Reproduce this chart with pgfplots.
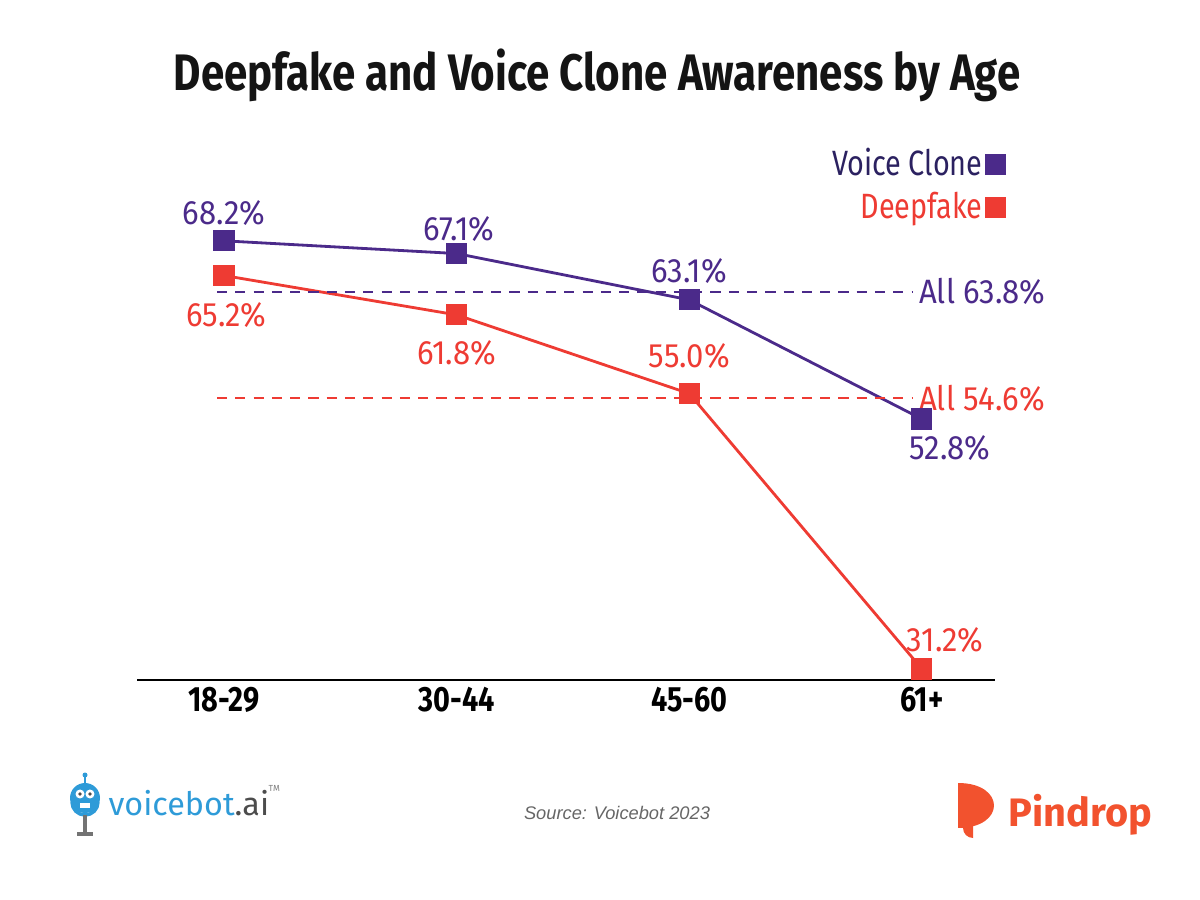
\documentclass[border=0pt]{standalone}
\usepackage{pgfplots}
\pgfplotsset{compat=1.18}
\usepackage{fontspec}
\setmainfont{Fira Sans}
\newfontfamily\condfont[FakeStretch=0.82]{Fira Sans}
\newfontfamily\labfont[FakeStretch=0.92]{Fira Sans}
\newfontfamily\srcfont{Liberation Sans}
\definecolor{vc}{HTML}{4B2A8A}
\definecolor{df}{HTML}{EE3B33}
\definecolor{vctext}{HTML}{2B2160}
\definecolor{vbblue}{HTML}{2E9BD8}
\definecolor{pinred}{HTML}{F2522E}
\begin{document}
\begin{tikzpicture}[x=1cm,y=1cm]
\useasboundingbox (0,0) rectangle (12,9);
\node[font=\condfont\bfseries\fontsize{14.6}{17}\selectfont, text=black!92] at (5.97,8.25) {Deepfake and Voice Clone Awareness by Age};
\begin{axis}[
  scale only axis, width=8.58cm, height=4.6cm,
  at={(1.37cm,2.2cm)}, anchor=south west,
  xmin=-0.374, xmax=3.314, ymin=30.25, ymax=70,
  clip=false,
  separate axis lines,
  axis x line*=bottom, axis y line=none,
  x axis line style={black, line width=0.6pt, -},
  xtick={0,1,2,3}, xticklabels={18-29,30-44,45-60,61+},
  major tick length=0pt,
  xticklabel style={font=\condfont\bfseries\fontsize{10}{12}\selectfont, text=black, yshift=1.5pt},
  legend plot pos=right, legend cell align=right,
  legend style={draw=none, fill=none, at={(1.0117,1.165)}, anchor=north east,
    row sep=0.4mm, font=\condfont\fontsize{10}{12}\selectfont,
    inner sep=0pt, nodes={inner sep=1pt}},
  legend image code/.code={\draw[#1] plot coordinates {(0.12cm,0cm)};},
]
\addplot[vc, line width=0.8pt, mark=square*, mark size=2.6pt, mark options={fill=vc, draw=vc}]
  coordinates {(0,68.2) (1,67.1) (2,63.1) (3,52.8)};
\addplot[df, line width=0.8pt, mark=square*, mark size=2.6pt, mark options={fill=df, draw=df}]
  coordinates {(0,65.2) (1,61.8) (2,55.0) (3,31.2)};
\legend{\textcolor{vctext}{Voice Clone},\textcolor{df}{Deepfake}}
\addplot[vc, line width=0.6pt, dash pattern=on 2.9pt off 2.3pt, forget plot]
  coordinates {(-0.03,63.8) (2.957,63.8)};
\addplot[df, line width=0.6pt, dash pattern=on 2.9pt off 2.3pt, forget plot]
  coordinates {(-0.03,54.6) (2.957,54.6)};
\begin{scope}[every node/.style={font=\labfont\fontsize{9.6}{12}\selectfont}]
\node[text=vc] at (axis cs:0,70.61) {68.2\%};
\node[text=vc] at (axis cs:1.01,69.23) {67.1\%};
\node[text=vc] at (axis cs:2,65.60) {63.1\%};
\node[text=vc] at (axis cs:3.12,50.30) {52.8\%};
\node[text=df] at (axis cs:0.01,61.80) {65.2\%};
\node[text=df] at (axis cs:1,58.51) {61.8\%};
\node[text=df] at (axis cs:2,58.25) {55.0\%};
\node[text=df] at (axis cs:3.10,33.71) {31.2\%};
\node[text=vc, anchor=west, inner sep=0pt] at (axis cs:2.985,63.8) {All 63.8\%};
\node[text=df, anchor=west, inner sep=0pt] at (axis cs:2.985,54.6) {All 54.6\%};
\end{scope}
\end{axis}
% source
\node[font=\srcfont\itshape\fontsize{5.2}{7}\selectfont, text=black!60] at (6.17,0.87) {Source: Voicebot 2023};
% voicebot logo
\fill[vbblue] (0.85,1.02) circle (0.15);
\draw[vbblue, line width=0.8pt] (0.85,1.17) -- (0.85,1.24);
\fill[vbblue] (0.85,1.25) circle (0.025);
\fill[white] (0.80,1.06) circle (0.045);
\fill[white] (0.90,1.06) circle (0.045);
\fill[black!70] (0.80,1.06) circle (0.018);
\fill[black!70] (0.90,1.06) circle (0.018);
\fill[white] (0.80,0.92) rectangle (0.90,0.97);
\draw[vbblue, line width=1pt] (0.72,0.98) arc (180:360:0.13);
\draw[black!55, line width=1pt] (0.85,0.85) -- (0.85,0.67);
\draw[black!55, line width=1.2pt] (0.77,0.66) -- (0.93,0.66);
\node[anchor=west, inner sep=0pt, font=\fontsize{9.2}{11}\selectfont] at (1.08,0.97) {\textcolor{vbblue}{voicebot}\textcolor{black!70}{.ai}};
\node[anchor=west, inner sep=0pt, font=\fontsize{2.5}{3}\selectfont, text=black!50] at (2.68,1.12) {TM};
% pindrop logo
\fill[pinred] (9.58,1.17) .. controls (10.06,1.17) and (10.06,0.72) .. (9.58,0.72) -- cycle;
\fill[pinred] (9.73,0.82) -- (9.73,0.62) arc (270:90:0.1) -- cycle;
\node[anchor=west, inner sep=0pt, font=\bfseries\fontsize{11.3}{13}\selectfont, text=pinred] at (10.08,0.85) {Pindrop};
\end{tikzpicture}
\end{document}
